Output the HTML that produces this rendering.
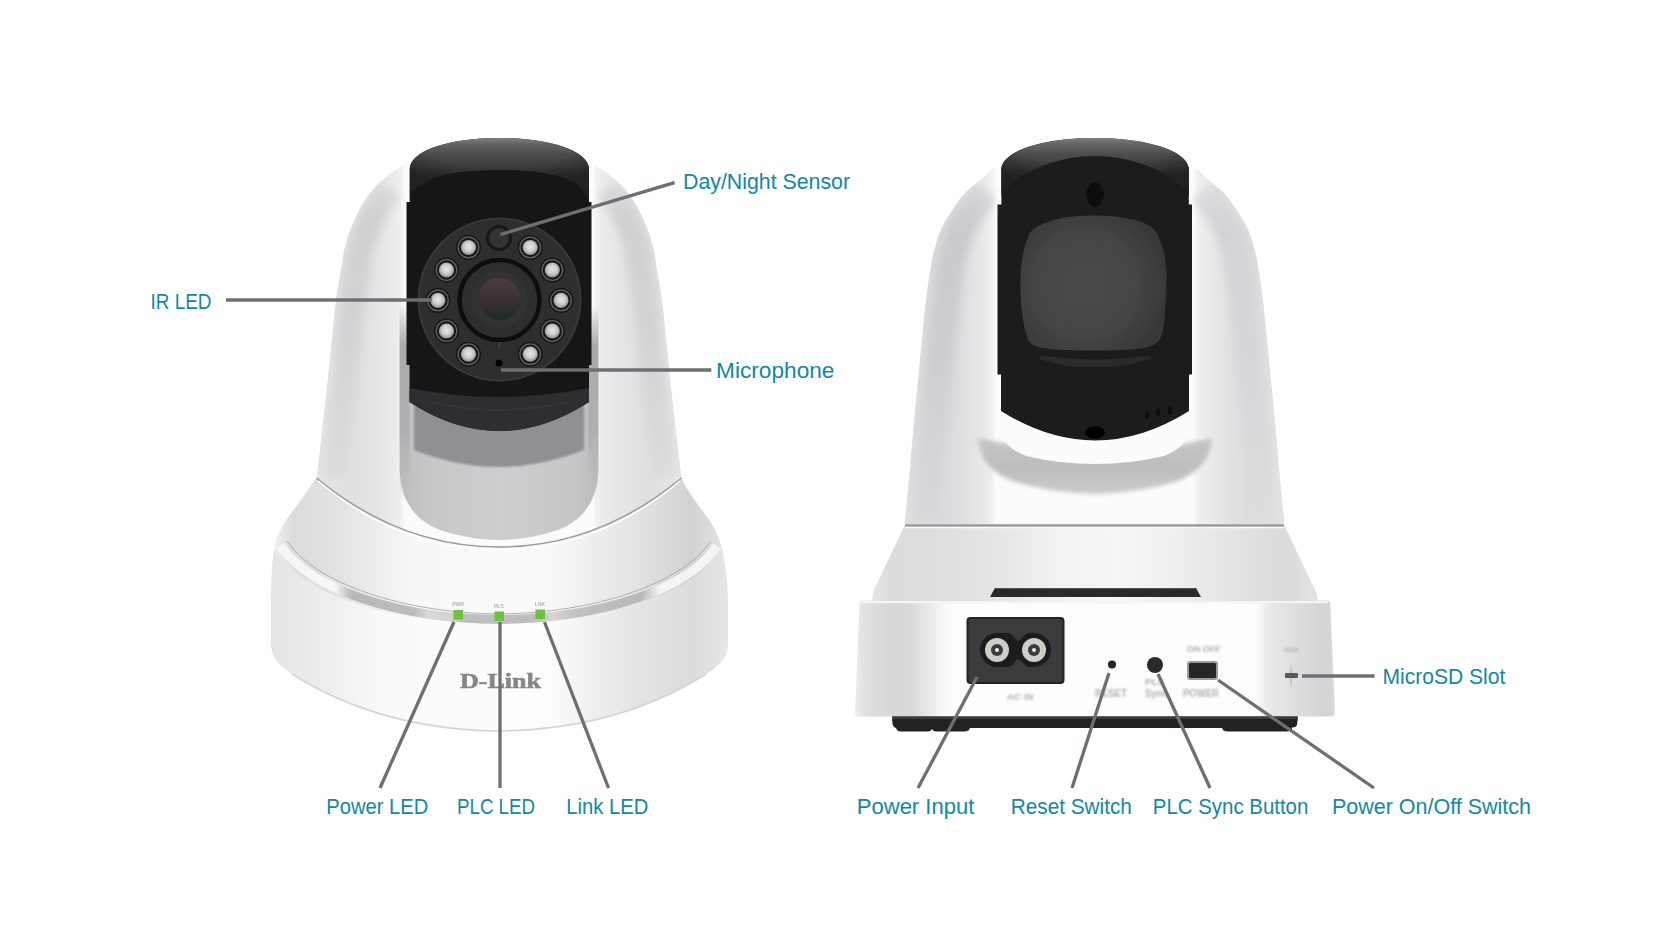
<!DOCTYPE html>
<html><head><meta charset="utf-8">
<style>
html,body{margin:0;padding:0;background:#fff;width:1664px;height:936px;overflow:hidden}
svg{display:block}
.lb{font-family:"Liberation Sans",sans-serif;font-size:22.5px;fill:#1188a4}
.ln{stroke:#6c7075;stroke-width:3.3;fill:none}
.sm{font-family:"Liberation Sans",sans-serif;font-weight:bold;fill:#aeb2b6}
</style></head>
<body>
<svg width="1664" height="936" viewBox="0 0 1664 936">
<defs>
  <linearGradient id="armLL" gradientUnits="userSpaceOnUse" x1="316" x2="406.5" y1="0" y2="0">
    <stop offset="0.0000" stop-color="#e6e6e8"/>
    <stop offset="0.2210" stop-color="#e2e2e4"/>
    <stop offset="0.3757" stop-color="#e0e0e2"/>
    <stop offset="0.5414" stop-color="#e2e2e4"/>
    <stop offset="0.7072" stop-color="#e6e6e8"/>
    <stop offset="0.8840" stop-color="#ececed"/>
    <stop offset="0.9503" stop-color="#f3f3f3"/>
    <stop offset="0.9779" stop-color="#fbfbfb"/>
    <stop offset="1.0000" stop-color="#fdfdfd"/>
  </linearGradient>
  <linearGradient id="armLR" gradientUnits="userSpaceOnUse" x1="682" x2="591.5" y1="0" y2="0">
    <stop offset="0.0000" stop-color="#e6e6e8"/>
    <stop offset="0.2210" stop-color="#e2e2e4"/>
    <stop offset="0.3757" stop-color="#e0e0e2"/>
    <stop offset="0.5414" stop-color="#e2e2e4"/>
    <stop offset="0.7072" stop-color="#e6e6e8"/>
    <stop offset="0.8840" stop-color="#ececed"/>
    <stop offset="0.9503" stop-color="#f3f3f3"/>
    <stop offset="0.9779" stop-color="#fbfbfb"/>
    <stop offset="1.0000" stop-color="#fdfdfd"/>
  </linearGradient>
  <linearGradient id="armRL" gradientUnits="userSpaceOnUse" x1="904" x2="997.5" y1="0" y2="0">
    <stop offset="0.0000" stop-color="#e0e0e2"/>
    <stop offset="0.2353" stop-color="#dcdcdf"/>
    <stop offset="0.3850" stop-color="#dadbde"/>
    <stop offset="0.5989" stop-color="#dedee1"/>
    <stop offset="0.7594" stop-color="#e4e4e6"/>
    <stop offset="0.8984" stop-color="#ececed"/>
    <stop offset="0.9519" stop-color="#f3f3f4"/>
    <stop offset="0.9786" stop-color="#fcfcfc"/>
    <stop offset="1.0000" stop-color="#fdfdfd"/>
  </linearGradient>
  <linearGradient id="armRR" gradientUnits="userSpaceOnUse" x1="1285.0" x2="1191.5" y1="0" y2="0">
    <stop offset="0.0000" stop-color="#e4e4e6"/>
    <stop offset="0.2353" stop-color="#e0e0e2"/>
    <stop offset="0.3850" stop-color="#dedee1"/>
    <stop offset="0.5989" stop-color="#e2e2e4"/>
    <stop offset="0.7594" stop-color="#e8e8ea"/>
    <stop offset="0.8984" stop-color="#eeeeef"/>
    <stop offset="0.9519" stop-color="#f4f4f4"/>
    <stop offset="0.9786" stop-color="#fcfcfc"/>
    <stop offset="1.0000" stop-color="#fdfdfd"/>
  </linearGradient>

  <filter id="camsoft" filterUnits="userSpaceOnUse" x="200" y="100" width="1200" height="660"><feGaussianBlur stdDeviation="0.55"/></filter>
  <filter id="halo" filterUnits="userSpaceOnUse" x="990" y="190" width="210" height="200"><feGaussianBlur stdDeviation="4.5"/></filter>
  <linearGradient id="stripV" gradientUnits="userSpaceOnUse" x1="0" x2="0" y1="330" y2="500">
    <stop offset="0" stop-color="#a9aaac" stop-opacity="1"/>
    <stop offset="0.6" stop-color="#acadaf" stop-opacity="0.9"/>
    <stop offset="1" stop-color="#bbbcbe" stop-opacity="0"/>
  </linearGradient>
  <filter id="blur5" x="-50%" y="-10%" width="200%" height="120%"><feGaussianBlur stdDeviation="5"/></filter>
  <linearGradient id="bandV" gradientUnits="userSpaceOnUse" x1="0" x2="0" y1="175" y2="480">
    <stop offset="0" stop-color="#cfd0d2" stop-opacity="0.5"/>
    <stop offset="0.15" stop-color="#cfd0d2" stop-opacity="1"/>
    <stop offset="0.55" stop-color="#d2d3d5" stop-opacity="1"/>
    <stop offset="1" stop-color="#d8d8da" stop-opacity="0.6"/>
  </linearGradient>
  <linearGradient id="bandV2" gradientUnits="userSpaceOnUse" x1="0" x2="0" y1="180" y2="524">
    <stop offset="0" stop-color="#cbccd0" stop-opacity="0.5"/>
    <stop offset="0.15" stop-color="#c9cace" stop-opacity="1"/>
    <stop offset="0.5" stop-color="#cccdd1" stop-opacity="1"/>
    <stop offset="1" stop-color="#d6d7d9" stop-opacity="0.7"/>
  </linearGradient>
  <linearGradient id="bandV2b" gradientUnits="userSpaceOnUse" x1="0" x2="0" y1="180" y2="524">
    <stop offset="0" stop-color="#d2d3d6" stop-opacity="0.5"/>
    <stop offset="0.15" stop-color="#d2d3d6" stop-opacity="1"/>
    <stop offset="0.5" stop-color="#d5d6d9" stop-opacity="1"/>
    <stop offset="1" stop-color="#dcdcde" stop-opacity="0.7"/>
  </linearGradient>
  <linearGradient id="rimG" gradientUnits="userSpaceOnUse" x1="276" x2="722" y1="0" y2="0">
    <stop offset="0" stop-color="#f4f4f4"/>
    <stop offset="0.13" stop-color="#f8f8f8"/>
    <stop offset="0.17" stop-color="#b8b8ba"/>
    <stop offset="0.31" stop-color="#bcbcbe"/>
    <stop offset="0.34" stop-color="#d8d8d9"/>
    <stop offset="0.39" stop-color="#d4d4d5"/>
    <stop offset="0.42" stop-color="#bebec0"/>
    <stop offset="0.58" stop-color="#bebec0"/>
    <stop offset="0.62" stop-color="#d4d4d5"/>
    <stop offset="0.68" stop-color="#c0c0c2"/>
    <stop offset="0.82" stop-color="#b8b8ba"/>
    <stop offset="0.86" stop-color="#f4f4f4"/>
    <stop offset="1" stop-color="#f4f4f4"/>
  </linearGradient>
  <linearGradient id="recMaskG" gradientUnits="userSpaceOnUse" x1="0" x2="0" y1="305" y2="345">
    <stop offset="0" stop-color="#000"/>
    <stop offset="1" stop-color="#fff"/>
  </linearGradient>
  <mask id="recMask" maskUnits="userSpaceOnUse" x="380" y="280" width="240" height="280"><rect x="380" y="280" width="240" height="280" fill="url(#recMaskG)"/></mask>
  <filter id="soft" x="-10%" y="-10%" width="120%" height="120%"><feGaussianBlur stdDeviation="0.6"/></filter>
  <filter id="soft1" x="-10%" y="-10%" width="120%" height="120%"><feGaussianBlur stdDeviation="1"/></filter>
  <filter id="soft2" x="-10%" y="-10%" width="120%" height="120%"><feGaussianBlur stdDeviation="2"/></filter>
  <g id="led"><circle r="12.5" fill="#171717"/><circle r="10.3" fill="none" stroke="#626262" stroke-width="1.3"/><circle r="7.6" fill="url(#ledG)"/></g>
  <linearGradient id="baseLo" x1="0" x2="1" y1="0" y2="0">
    <stop offset="0" stop-color="#e4e4e6"/>
    <stop offset="0.1" stop-color="#ececed"/>
    <stop offset="0.25" stop-color="#fafafa"/>
    <stop offset="0.6" stop-color="#fdfdfd"/>
    <stop offset="0.8" stop-color="#e4e4e5"/>
    <stop offset="0.93" stop-color="#dcdcde"/>
    <stop offset="1" stop-color="#e6e6e7"/>
  </linearGradient>
  <linearGradient id="baseSh" x1="0" x2="1" y1="0" y2="0">
    <stop offset="0" stop-color="#f0f0f1"/>
    <stop offset="0.04" stop-color="#dcdcde"/>
    <stop offset="0.14" stop-color="#e2e2e4"/>
    <stop offset="0.32" stop-color="#f8f8f8"/>
    <stop offset="0.6" stop-color="#fafafa"/>
    <stop offset="0.8" stop-color="#e4e4e6"/>
    <stop offset="0.93" stop-color="#d2d2d4"/>
    <stop offset="1" stop-color="#e2e2e3"/>
  </linearGradient>
  <linearGradient id="domeL" gradientUnits="userSpaceOnUse" x1="0" x2="0" y1="137" y2="205">
    <stop offset="0" stop-color="#858585"/>
    <stop offset="0.1" stop-color="#646464"/>
    <stop offset="0.27" stop-color="#4a4a4a"/>
    <stop offset="0.5" stop-color="#383838"/>
    <stop offset="1" stop-color="#282828"/>
  </linearGradient>
  <linearGradient id="domeR" gradientUnits="userSpaceOnUse" x1="0" x2="0" y1="137" y2="196">
    <stop offset="0" stop-color="#888"/>
    <stop offset="0.1" stop-color="#686868"/>
    <stop offset="0.3" stop-color="#4c4c4c"/>
    <stop offset="0.6" stop-color="#383838"/>
    <stop offset="1" stop-color="#2a2a2a"/>
  </linearGradient>
  <radialGradient id="domeSide" cx="0.5" cy="0" r="0.75">
    <stop offset="0.6" stop-color="#000" stop-opacity="0"/>
    <stop offset="1" stop-color="#000" stop-opacity="0.35"/>
  </radialGradient>
  <linearGradient id="recessG" x1="0" x2="1" y1="0" y2="0">
    <stop offset="0" stop-color="#bbbcbe"/>
    <stop offset="0.05" stop-color="#bfc0c2"/>
    <stop offset="0.12" stop-color="#c5c6c8"/>
    <stop offset="0.3" stop-color="#c9cacc"/>
    <stop offset="0.5" stop-color="#cdced0"/>
    <stop offset="0.7" stop-color="#c9cacc"/>
    <stop offset="0.88" stop-color="#c5c6c8"/>
    <stop offset="0.95" stop-color="#bfc0c2"/>
    <stop offset="1" stop-color="#bbbcbe"/>
  </linearGradient>
  <linearGradient id="lensG" x1="0" x2="0" y1="0" y2="1">
    <stop offset="0" stop-color="#4a3c46"/>
    <stop offset="0.45" stop-color="#3e3036"/>
    <stop offset="1" stop-color="#1e2c24"/>
  </linearGradient>
  <radialGradient id="ledG" cx="0.5" cy="0.45" r="0.55">
    <stop offset="0" stop-color="#e6e6e6"/>
    <stop offset="0.55" stop-color="#cdcdcd"/>
    <stop offset="1" stop-color="#8a8a8a"/>
  </radialGradient>
  <radialGradient id="winG" gradientUnits="userSpaceOnUse" cx="1085" cy="285" r="80">
    <stop offset="0" stop-color="#4a4a4c"/>
    <stop offset="0.7" stop-color="#444446"/>
    <stop offset="1" stop-color="#39393b"/>
  </radialGradient>
  <linearGradient id="plateG" gradientUnits="userSpaceOnUse" x1="855" x2="1335" y1="0" y2="0">
    <stop offset="0.0000" stop-color="#eeeeee"/>
    <stop offset="0.0104" stop-color="#e6e6e8"/>
    <stop offset="0.0312" stop-color="#dedee0"/>
    <stop offset="0.0729" stop-color="#d6d7d9"/>
    <stop offset="0.1146" stop-color="#d8d8da"/>
    <stop offset="0.1458" stop-color="#e6e6e8"/>
    <stop offset="0.1812" stop-color="#f6f6f6"/>
    <stop offset="0.2083" stop-color="#fdfdfd"/>
    <stop offset="0.8333" stop-color="#fdfdfd"/>
    <stop offset="0.8604" stop-color="#eaeaeb"/>
    <stop offset="0.9062" stop-color="#e0e0e2"/>
    <stop offset="0.9479" stop-color="#d8d8da"/>
    <stop offset="0.9792" stop-color="#d2d3d5"/>
    <stop offset="1.0000" stop-color="#dadadc"/>
  </linearGradient>
  <linearGradient id="baseFr" gradientUnits="userSpaceOnUse" x1="872" x2="1318" y1="0" y2="0">
    <stop offset="0.0000" stop-color="#e6e6e8"/>
    <stop offset="0.0404" stop-color="#dcdcde"/>
    <stop offset="0.1525" stop-color="#dedee0"/>
    <stop offset="0.2870" stop-color="#e6e6e8"/>
    <stop offset="0.4215" stop-color="#f2f2f3"/>
    <stop offset="0.5561" stop-color="#f6f6f6"/>
    <stop offset="0.6906" stop-color="#eeeeef"/>
    <stop offset="0.8251" stop-color="#e2e2e4"/>
    <stop offset="0.9372" stop-color="#dadadc"/>
    <stop offset="1.0000" stop-color="#e4e4e6"/>
  </linearGradient>

  <linearGradient id="ringShadow" x1="0" x2="0" y1="0" y2="1">
    <stop offset="0" stop-color="#c6c6c8"/>
    <stop offset="0.5" stop-color="#bdbdbf"/>
    <stop offset="1" stop-color="#cbcbcd"/>
  </linearGradient>
</defs>

<g id="leftcam" filter="url(#camsoft)">
  <!-- base lower cylinder -->
  <path d="M274 549 Q271 570 271 600 L271 645 Q272 662 292 674 Q380 729.5 499 731 Q618 729.5 706 674 Q727 662 728 645 L728 600 Q727 570 722 549 C690 600 600 624 499 624 C398 624 308 600 274 549 Z" fill="url(#baseLo)"/>
  <!-- base shoulder -->
  <path d="M316 478 Q305 495 295 508 Q276 532 274 549 C308 600 398 624 499 624 C600 624 690 600 722 549 Q718 530 702 510 Q690 495 681 478 Z" fill="url(#baseSh)"/>
  <!-- rim band -->
  <path d="M281 546 C310 590 400 619 499 619.5 C598 619 688 590 717 546" fill="none" stroke="url(#rimG)" stroke-width="9" filter="url(#soft)"/>
  <path d="M287 541 C316 584 404 613 499 614 C594 613 682 584 711 541" fill="none" stroke="#a9a5a5" stroke-width="0.9"/>
  <!-- bottom edge -->
  <path d="M292 674 Q380 729.5 499 731 Q618 729.5 706 674" fill="none" stroke="#d4d4d6" stroke-width="1.5"/>
  <!-- body -->
  <path d="M406.5 164 L404 164.5 C401.3 166.3 393.0 171.6 388.0 175.6 C383.0 179.6 377.8 184.2 373.8 188.5 C369.8 192.8 367.0 197.1 364.2 201.3 C361.4 205.6 359.3 209.7 357.2 214.0 C355.1 218.3 353.1 222.7 351.4 227.0 C349.7 231.3 348.3 235.4 347.0 239.7 C345.7 244.0 344.7 247.5 343.7 252.6 C342.7 257.6 342.3 262.1 341.0 270.0 C339.7 277.9 337.7 286.7 336.0 300.0 C334.3 313.3 332.5 333.3 330.8 350.0 C329.1 366.7 327.2 385.0 325.6 400.0 C324.0 415.0 322.5 427.0 321.0 440.0 C319.5 453.0 317.2 471.7 316.5 478.0 Q400 547 499 547 Q598 547 681.5 478 C680.8 471.7 678.5 453.0 677.0 440.0 C675.5 427.0 674.0 415.0 672.4 400.0 C670.8 385.0 668.9 366.7 667.2 350.0 C665.5 333.3 663.7 313.3 662.0 300.0 C660.3 286.7 658.3 277.9 657.0 270.0 C655.7 262.1 655.3 257.6 654.3 252.6 C653.3 247.5 652.3 244.0 651.0 239.7 C649.7 235.4 648.3 231.3 646.6 227.0 C644.9 222.7 642.9 218.3 640.8 214.0 C638.7 209.7 636.6 205.6 633.8 201.3 C631.0 197.1 628.2 192.8 624.2 188.5 C620.2 184.2 615.0 179.6 610.0 175.6 C605.0 171.6 596.7 166.3 594.0 164.5 L591.5 164 Z" fill="#fbfbfb"/>
  <clipPath id="cLL"><path d="M406.5 164 L404 164.5 C401.3 166.3 393.0 171.6 388.0 175.6 C383.0 179.6 377.8 184.2 373.8 188.5 C369.8 192.8 367.0 197.1 364.2 201.3 C361.4 205.6 359.3 209.7 357.2 214.0 C355.1 218.3 353.1 222.7 351.4 227.0 C349.7 231.3 348.3 235.4 347.0 239.7 C345.7 244.0 344.7 247.5 343.7 252.6 C342.7 257.6 342.3 262.1 341.0 270.0 C339.7 277.9 337.7 286.7 336.0 300.0 C334.3 313.3 332.5 333.3 330.8 350.0 C329.1 366.7 327.2 385.0 325.6 400.0 C324.0 415.0 322.5 427.0 321.0 440.0 C319.5 453.0 317.2 471.7 316.5 478.0 Q360 515 406.5 534 Z"/></clipPath>
  <clipPath id="cLR"><path d="M591.5 164 L594 164.5 C596.7 166.3 605.0 171.6 610.0 175.6 C615.0 179.6 620.2 184.2 624.2 188.5 C628.2 192.8 631.0 197.1 633.8 201.3 C636.6 205.6 638.7 209.7 640.8 214.0 C642.9 218.3 644.9 222.7 646.6 227.0 C648.3 231.3 649.7 235.4 651.0 239.7 C652.3 244.0 653.3 247.5 654.3 252.6 C655.3 257.6 655.7 262.1 657.0 270.0 C658.3 277.9 660.3 286.7 662.0 300.0 C663.7 313.3 665.5 333.3 667.2 350.0 C668.9 366.7 670.8 385.0 672.4 400.0 C674.0 415.0 675.5 427.0 677.0 440.0 C678.5 453.0 680.8 471.7 681.5 478.0 Q638 515 591.5 534 Z"/></clipPath>
  <path d="M406.5 164 L404 164.5 C401.3 166.3 393.0 171.6 388.0 175.6 C383.0 179.6 377.8 184.2 373.8 188.5 C369.8 192.8 367.0 197.1 364.2 201.3 C361.4 205.6 359.3 209.7 357.2 214.0 C355.1 218.3 353.1 222.7 351.4 227.0 C349.7 231.3 348.3 235.4 347.0 239.7 C345.7 244.0 344.7 247.5 343.7 252.6 C342.7 257.6 342.3 262.1 341.0 270.0 C339.7 277.9 337.7 286.7 336.0 300.0 C334.3 313.3 332.5 333.3 330.8 350.0 C329.1 366.7 327.2 385.0 325.6 400.0 C324.0 415.0 322.5 427.0 321.0 440.0 C319.5 453.0 317.2 471.7 316.5 478.0 Q360 515 406.5 534 Z" fill="url(#armLL)"/>
  <path d="M591.5 164 L594 164.5 C596.7 166.3 605.0 171.6 610.0 175.6 C615.0 179.6 620.2 184.2 624.2 188.5 C628.2 192.8 631.0 197.1 633.8 201.3 C636.6 205.6 638.7 209.7 640.8 214.0 C642.9 218.3 644.9 222.7 646.6 227.0 C648.3 231.3 649.7 235.4 651.0 239.7 C652.3 244.0 653.3 247.5 654.3 252.6 C655.3 257.6 655.7 262.1 657.0 270.0 C658.3 277.9 660.3 286.7 662.0 300.0 C663.7 313.3 665.5 333.3 667.2 350.0 C668.9 366.7 670.8 385.0 672.4 400.0 C674.0 415.0 675.5 427.0 677.0 440.0 C678.5 453.0 680.8 471.7 681.5 478.0 Q638 515 591.5 534 Z" fill="url(#armLR)"/>
  <g clip-path="url(#cLL)"><path d="M390.8 188.5 C389.2 190.6 384.0 197.1 381.2 201.3 C378.4 205.6 376.3 209.7 374.2 214.0 C372.1 218.3 370.1 222.7 368.4 227.0 C366.7 231.3 365.3 235.4 364.0 239.7 C362.7 244.0 361.7 247.5 360.7 252.6 C359.7 257.6 359.3 262.1 358.0 270.0 C356.7 277.9 354.7 286.7 353.0 300.0 C351.3 313.3 349.5 333.3 347.8 350.0 C346.1 366.7 344.2 385.0 342.6 400.0 C341.0 415.0 339.5 427.0 338.0 440.0 C336.5 453.0 334.2 471.7 333.5 478.0" fill="none" stroke="url(#bandV)" stroke-width="24" filter="url(#blur5)"/></g>
  <g clip-path="url(#cLR)"><path d="M607.2 188.5 C608.8 190.6 614.0 197.1 616.8 201.3 C619.6 205.6 621.7 209.7 623.8 214.0 C625.9 218.3 627.9 222.7 629.6 227.0 C631.3 231.3 632.7 235.4 634.0 239.7 C635.3 244.0 636.3 247.5 637.3 252.6 C638.3 257.6 638.7 262.1 640.0 270.0 C641.3 277.9 643.3 286.7 645.0 300.0 C646.7 313.3 648.5 333.3 650.2 350.0 C651.9 366.7 653.8 385.0 655.4 400.0 C657.0 415.0 658.5 427.0 660.0 440.0 C661.5 453.0 663.8 471.7 664.5 478.0" fill="none" stroke="url(#bandV)" stroke-width="24" filter="url(#blur5)"/></g>
  <!-- body-base seam -->
  <path d="M316.5 478 Q400 547 499 547 Q598 547 681.5 478" fill="none" stroke="#9c9696" stroke-width="1.4"/>
  <path d="M318 481 Q400 550 499 550 Q598 550 680 481" fill="none" stroke="#ffffff" stroke-width="1.5"/>
  <!-- recess -->
  <g mask="url(#recMask)">
  <path d="M399.7 300 L399.7 470 Q401 515 440 530 Q470 540 499 540 Q528 540 558 530 Q597 515 598.3 470 L598.3 300 Z" fill="url(#recessG)"/>
  <rect x="399.7" y="300" width="10" height="200" fill="url(#stripV)"/>
  <rect x="588.3" y="300" width="10" height="200" fill="url(#stripV)"/>
  <path d="M414 380 L584 380 L584 450 Q499 484 414 450 Z" fill="#8f9094" filter="url(#soft1)"/>
  </g>
  <!-- visor -->
  <path d="M409.8 168 C412 150 450 138 499 138 C548 138 587 150 589 168 L589 202 L591.5 202 L591.5 365 L589 365 L589 402 Q499 460 409.5 402 L409.5 365 L406.5 365 L406.5 202 L409.8 202 Z" fill="#181818"/>
  <path d="M409.8 168 C412 150 450 138 499 138 C548 138 587 150 589 168 L589 203 C586 185 568 170 499 170 C430 170 412 185 409.8 203 Z" fill="url(#domeL)" filter="url(#soft)"/>
  <path d="M409.8 168 C412 150 450 138 499 138 C548 138 587 150 589 168 L589 203 C586 185 568 170 499 170 C430 170 412 185 409.8 203 Z" fill="url(#domeSide)"/>
  <!-- lower visor band -->
  <path d="M409.5 388 Q499 406 589 388 L589 402 Q499 460 409.5 402 Z" fill="#2f2f30" filter="url(#soft)"/>
  <path d="M430 402 Q499 418 568 402" fill="none" stroke="#363637" stroke-width="2" filter="url(#soft)"/>
  <!-- lens ring plate -->
  <circle cx="499.5" cy="299.5" r="82" fill="#2f2f2f"/>
  <circle cx="499.5" cy="299.5" r="81" fill="none" stroke="#3d3d3d" stroke-width="1.2"/>
  <circle cx="499.5" cy="300" r="40" fill="#2f2f2f" stroke="#0e0e0e" stroke-width="4.5"/>
  <circle cx="499.5" cy="299" r="28" fill="#333333"/>
  <circle cx="499.5" cy="299" r="21" fill="url(#lensG)"/>
  <line x1="499.5" y1="342" x2="499.5" y2="347" stroke="#4a4a4a" stroke-width="1.5"/>
  <!-- day/night sensor -->
  <circle cx="499" cy="238" r="11.5" fill="#333" stroke="#141414" stroke-width="2.8"/>
  <!-- mic -->
  <circle cx="499" cy="363" r="3.5" fill="#050505"/>
  <!-- IR LEDs -->
  <g>
    <use href="#led" x="468.5" y="247.5"/>
    <use href="#led" x="530.2" y="247.5"/>
    <use href="#led" x="446.5" y="270"/>
    <use href="#led" x="552.3" y="270"/>
    <use href="#led" x="437.9" y="300.4"/>
    <use href="#led" x="561" y="300.4"/>
    <use href="#led" x="446.5" y="331"/>
    <use href="#led" x="552.3" y="331"/>
    <use href="#led" x="468.5" y="354.2"/>
    <use href="#led" x="530.2" y="354.2"/>
  </g>
  <!-- LEDs on base -->
  <rect x="453.5" y="610" width="9.5" height="9.5" fill="#6cc23c"/>
  <rect x="494.5" y="611.5" width="9.5" height="9.5" fill="#6cc23c"/>
  <rect x="535.5" y="609.5" width="9.5" height="9.5" fill="#6cc23c"/>
  <g filter="url(#soft)">
  <text class="sm" x="458" y="606" font-size="5" text-anchor="middle">PWR</text>
  <text class="sm" x="499" y="608" font-size="5" text-anchor="middle">PLC</text>
  <text class="sm" x="540" y="606" font-size="5" text-anchor="middle">LNK</text>
  </g>
  <!-- D-Link -->
  <text x="500.5" y="687.8" font-family="Liberation Serif" font-weight="bold" font-size="21.5" fill="#858789" stroke="#858789" stroke-width="0.6" text-anchor="middle" textLength="81" lengthAdjust="spacingAndGlyphs" filter="url(#soft)">D-Link</text>
</g>

<g id="rightcam" filter="url(#camsoft)">
  <!-- base plate -->
  <path d="M862 600.5 L1327.5 600.5 Q1330 600.5 1330.2 603 L1335 712 Q1335 716.5 1331 716.5 L859 716.5 Q855 716.5 855 712 L859.5 603 Q859.7 600.5 862 600.5 Z" fill="url(#plateG)"/>
  <path d="M861 602 L1328 602" stroke="#f4f4f4" stroke-width="2.5"/>
  <!-- bottom strip -->
  <path d="M892 716.5 L1298 716.5 L1297 725 Q1296 727.5 1292 727.5 L1292 729 Q1291 731.5 1287 731.5 L1228 731.5 Q1223 731.5 1222 728 L970 728 Q969 731.5 964 731.5 L936 731.5 Q933 731.5 932 729 Q931 731.5 928 731.5 L901 731.5 Q897 731.5 896 728 Q893 727 892.5 724 Z" fill="#232323"/>
  <rect x="893" y="716.5" width="404" height="2.5" fill="#3a3a3a"/>
  <!-- base frustum -->
  <path d="M904.4 526 L1284.6 526 L1316 592 L1318 601 L872 601 L873 592 Z" fill="url(#baseFr)"/>
  <!-- slot -->
  <path d="M995 588 L1196 588 L1201 597 L990 597 Z" fill="#2b2b2b"/>
  <path d="M996 588.5 L1195 588.5" stroke="#555" stroke-width="1"/>
  <!-- body -->
  <path d="M997.5 168 L992 169 C990.3 170.6 986.2 174.8 982.0 178.5 C977.8 182.2 971.0 187.1 966.7 191.3 C962.4 195.6 959.5 199.7 956.4 204.0 C953.3 208.3 950.6 212.7 948.0 217.0 C945.4 221.3 942.9 225.4 941.0 229.7 C939.1 234.0 938.0 237.5 936.5 242.6 C935.0 247.7 933.8 250.4 932.0 260.0 C930.2 269.6 927.8 285.0 926.0 300.0 C924.2 315.0 922.7 333.3 921.0 350.0 C919.3 366.7 917.6 383.3 916.0 400.0 C914.4 416.7 913.0 433.3 911.5 450.0 C910.0 466.7 908.2 487.7 907.0 500.0 C905.8 512.3 904.8 520.0 904.4 524.0 L1284.6 524 C1284.2 520.0 1283.2 512.3 1282.0 500.0 C1280.8 487.7 1279.0 466.7 1277.5 450.0 C1276.0 433.3 1274.6 416.7 1273.0 400.0 C1271.4 383.3 1269.7 366.7 1268.0 350.0 C1266.3 333.3 1264.8 315.0 1263.0 300.0 C1261.2 285.0 1258.8 269.6 1257.0 260.0 C1255.2 250.4 1254.0 247.7 1252.5 242.6 C1251.0 237.5 1249.9 234.0 1248.0 229.7 C1246.1 225.4 1243.6 221.3 1241.0 217.0 C1238.4 212.7 1235.7 208.3 1232.6 204.0 C1229.5 199.7 1226.6 195.6 1222.3 191.3 C1218.0 187.1 1211.2 182.2 1207.0 178.5 C1202.8 174.8 1198.7 170.6 1197.0 169.0 L1191.5 168 Z" fill="#fbfbfb"/>
  <clipPath id="cRL"><path d="M997.5 168 L992 169 C990.3 170.6 986.2 174.8 982.0 178.5 C977.8 182.2 971.0 187.1 966.7 191.3 C962.4 195.6 959.5 199.7 956.4 204.0 C953.3 208.3 950.6 212.7 948.0 217.0 C945.4 221.3 942.9 225.4 941.0 229.7 C939.1 234.0 938.0 237.5 936.5 242.6 C935.0 247.7 933.8 250.4 932.0 260.0 C930.2 269.6 927.8 285.0 926.0 300.0 C924.2 315.0 922.7 333.3 921.0 350.0 C919.3 366.7 917.6 383.3 916.0 400.0 C914.4 416.7 913.0 433.3 911.5 450.0 C910.0 466.7 908.2 487.7 907.0 500.0 C905.8 512.3 904.8 520.0 904.4 524.0 L998 524 Z"/></clipPath>
  <clipPath id="cRR"><path d="M1191.5 168 L1197 169 C1198.7 170.6 1202.8 174.8 1207.0 178.5 C1211.2 182.2 1218.0 187.1 1222.3 191.3 C1226.6 195.6 1229.5 199.7 1232.6 204.0 C1235.7 208.3 1238.4 212.7 1241.0 217.0 C1243.6 221.3 1246.1 225.4 1248.0 229.7 C1249.9 234.0 1251.0 237.5 1252.5 242.6 C1254.0 247.7 1255.2 250.4 1257.0 260.0 C1258.8 269.6 1261.2 285.0 1263.0 300.0 C1264.8 315.0 1266.3 333.3 1268.0 350.0 C1269.7 366.7 1271.4 383.3 1273.0 400.0 C1274.6 416.7 1276.0 433.3 1277.5 450.0 C1279.0 466.7 1280.8 487.7 1282.0 500.0 C1283.2 512.3 1284.2 520.0 1284.6 524.0 L1191 524 Z"/></clipPath>
  <path d="M997.5 168 L992 169 C990.3 170.6 986.2 174.8 982.0 178.5 C977.8 182.2 971.0 187.1 966.7 191.3 C962.4 195.6 959.5 199.7 956.4 204.0 C953.3 208.3 950.6 212.7 948.0 217.0 C945.4 221.3 942.9 225.4 941.0 229.7 C939.1 234.0 938.0 237.5 936.5 242.6 C935.0 247.7 933.8 250.4 932.0 260.0 C930.2 269.6 927.8 285.0 926.0 300.0 C924.2 315.0 922.7 333.3 921.0 350.0 C919.3 366.7 917.6 383.3 916.0 400.0 C914.4 416.7 913.0 433.3 911.5 450.0 C910.0 466.7 908.2 487.7 907.0 500.0 C905.8 512.3 904.8 520.0 904.4 524.0 L998 524 Z" fill="url(#armRL)"/>
  <path d="M1191.5 168 L1197 169 C1198.7 170.6 1202.8 174.8 1207.0 178.5 C1211.2 182.2 1218.0 187.1 1222.3 191.3 C1226.6 195.6 1229.5 199.7 1232.6 204.0 C1235.7 208.3 1238.4 212.7 1241.0 217.0 C1243.6 221.3 1246.1 225.4 1248.0 229.7 C1249.9 234.0 1251.0 237.5 1252.5 242.6 C1254.0 247.7 1255.2 250.4 1257.0 260.0 C1258.8 269.6 1261.2 285.0 1263.0 300.0 C1264.8 315.0 1266.3 333.3 1268.0 350.0 C1269.7 366.7 1271.4 383.3 1273.0 400.0 C1274.6 416.7 1276.0 433.3 1277.5 450.0 C1279.0 466.7 1280.8 487.7 1282.0 500.0 C1283.2 512.3 1284.2 520.0 1284.6 524.0 L1191 524 Z" fill="url(#armRR)"/>
  <g clip-path="url(#cRL)"><path d="M986.7 191.3 C985.0 193.4 979.5 199.7 976.4 204.0 C973.3 208.3 970.6 212.7 968.0 217.0 C965.4 221.3 962.9 225.4 961.0 229.7 C959.1 234.0 958.0 237.5 956.5 242.6 C955.0 247.7 953.8 250.4 952.0 260.0 C950.2 269.6 947.8 285.0 946.0 300.0 C944.2 315.0 942.7 333.3 941.0 350.0 C939.3 366.7 937.6 383.3 936.0 400.0 C934.4 416.7 933.0 433.3 931.5 450.0 C930.0 466.7 928.2 487.7 927.0 500.0 C925.8 512.3 924.8 520.0 924.4 524.0" fill="none" stroke="url(#bandV2)" stroke-width="28" filter="url(#blur5)"/></g>
  <g clip-path="url(#cRR)"><path d="M1202.3 191.3 C1204.0 193.4 1209.5 199.7 1212.6 204.0 C1215.7 208.3 1218.4 212.7 1221.0 217.0 C1223.6 221.3 1226.1 225.4 1228.0 229.7 C1229.9 234.0 1231.0 237.5 1232.5 242.6 C1234.0 247.7 1235.2 250.4 1237.0 260.0 C1238.8 269.6 1241.2 285.0 1243.0 300.0 C1244.8 315.0 1246.3 333.3 1248.0 350.0 C1249.7 366.7 1251.4 383.3 1253.0 400.0 C1254.6 416.7 1256.0 433.3 1257.5 450.0 C1259.0 466.7 1260.8 487.7 1262.0 500.0 C1263.2 512.3 1264.2 520.0 1264.6 524.0" fill="none" stroke="url(#bandV2b)" stroke-width="28" filter="url(#blur5)"/></g>
  <!-- seam -->
  <line x1="905" y1="525.5" x2="1284" y2="525.5" stroke="#959597" stroke-width="2.6"/>
  <line x1="905" y1="527.5" x2="1284" y2="527.5" stroke="#fafafa" stroke-width="1.5"/>
  <!-- ring shadow below visor -->
  <path d="M978 438 Q980 468 1012 481 Q1050 493 1095 494 Q1140 493 1178 481 Q1210 468 1212 438 Q1150 452 1095 452 Q1040 452 978 438 Z" fill="url(#ringShadow)" filter="url(#soft2)"/>
  <!-- white lip -->
  <path d="M996.5 374 L997 422 Q1000 446 1026 456 Q1060 464 1095 464 Q1130 464 1164 456 Q1190 446 1193 422 L1193 374 Z" fill="#fcfcfc"/>
  <!-- visor -->
  <path d="M1001.4 168 C1004 150 1045 138 1095 138 C1145 138 1186 150 1188.8 168 L1188.8 204.5 L1192 204.5 L1192 374.6 L1189 374.6 L1189 411 Q1095 470 1001 411 L1001 374.6 L997.5 374.6 L997.5 204.5 L1001.4 204.5 Z" fill="#1c1c1c"/>
  <path d="M1001.4 168 C1004 150 1045 138 1095 138 C1145 138 1186 150 1188.8 168 L1188.8 196 C1180 178 1140 156 1095 156 C1050 156 1010 178 1001.4 196 Z" fill="url(#domeR)" filter="url(#soft)"/>
  <path d="M1001.4 168 C1004 150 1045 138 1095 138 C1145 138 1186 150 1188.8 168 L1188.8 196 C1180 178 1140 156 1095 156 C1050 156 1010 178 1001.4 196 Z" fill="url(#domeSide)"/>
  <!-- window -->
  <path d="M1035.0 228.0 C1040.5 224.4 1050.5 220.6 1060.0 218.5 C1069.5 216.4 1081.2 215.7 1092.0 215.6 C1102.8 215.5 1115.3 216.3 1125.0 218.0 C1134.7 219.7 1144.2 222.3 1150.0 226.0 C1155.8 229.7 1157.4 234.0 1160.0 240.0 C1162.6 246.0 1164.4 254.5 1165.5 262.0 C1166.6 269.5 1166.6 277.0 1166.5 285.0 C1166.4 293.0 1165.7 302.2 1165.0 310.0 C1164.3 317.8 1164.2 326.3 1162.5 332.0 C1160.8 337.7 1159.6 341.2 1155.0 344.0 C1150.4 346.8 1145.5 347.9 1135.0 349.0 C1124.5 350.1 1106.2 350.5 1092.0 350.5 C1077.8 350.5 1060.0 350.1 1050.0 349.0 C1040.0 347.9 1036.1 346.8 1032.0 344.0 C1027.9 341.2 1027.2 338.0 1025.5 332.0 C1023.8 326.0 1022.4 316.2 1021.5 308.0 C1020.6 299.8 1020.3 291.0 1020.4 283.0 C1020.5 275.0 1020.9 267.2 1022.0 260.0 C1023.1 252.8 1024.8 245.3 1027.0 240.0 C1029.2 234.7 1029.5 231.6 1035.0 228.0 Z" fill="url(#winG)"/>
  <path d="M1040 357 Q1095 375 1150 357 Q1095 366 1040 357 Z" fill="#2c2c2c" stroke="#2a2a2a" stroke-width="4" filter="url(#soft)"/>
  <!-- top hole -->
  <ellipse cx="1095" cy="194.4" rx="8.5" ry="12" fill="#0b0b0b" filter="url(#soft)"/>
  <!-- bottom hole -->
  <ellipse cx="1095" cy="432.5" rx="10" ry="6.5" fill="#050505"/>
  <!-- 3 slots -->
  <rect x="1145" y="411" width="3.5" height="8" rx="1.5" fill="#070707"/>
  <rect x="1156.5" y="408.5" width="3.5" height="8" rx="1.5" fill="#070707"/>
  <rect x="1168" y="406" width="3.5" height="8" rx="1.5" fill="#070707"/>
  <!-- AC IN -->
  <rect x="967.5" y="618" width="96" height="65" rx="3" fill="#3b3b3c" stroke="#222" stroke-width="2"/>
  <path d="M997 633 L1006 633 Q1012 633 1015 638 Q1018 644 1022 638 Q1025 633 1031 633 L1034 633 A17 17 0 0 1 1034 667 L1031 667 Q1025 667 1022 662 Q1018 656 1015 662 Q1012 667 1006 667 L997 667 A17 17 0 0 1 997 633 Z" fill="#1d1d1e"/>
  <circle cx="997" cy="650" r="12" fill="#d0ccc9"/>
  <circle cx="1034" cy="650" r="12" fill="#d0ccc9"/>
  <circle cx="997" cy="650" r="6" fill="#3a3a3a"/>
  <circle cx="1034" cy="650" r="6" fill="#3a3a3a"/>
  <circle cx="997" cy="650" r="2" fill="#eee"/>
  <circle cx="1034" cy="650" r="2" fill="#eee"/>
  <g filter="url(#soft1)">
  <text class="sm" x="1007" y="699.5" font-size="9.5" textLength="26.5" lengthAdjust="spacingAndGlyphs">AC IN</text>
  <text class="sm" x="1095" y="696.5" font-size="10" textLength="32" lengthAdjust="spacingAndGlyphs">RESET</text>
  <text class="sm" x="1145" y="684.8" font-size="8.5" textLength="20" lengthAdjust="spacingAndGlyphs">PLC</text>
  <text class="sm" x="1145" y="696.5" font-size="10" textLength="22.5" lengthAdjust="spacingAndGlyphs">Sync</text>
  <text class="sm" x="1187" y="652" font-size="8.5" textLength="33.5" lengthAdjust="spacingAndGlyphs">ON OFF</text>
  <text class="sm" x="1183" y="696.5" font-size="10" textLength="36" lengthAdjust="spacingAndGlyphs">POWER</text>
  <text class="sm" x="1284" y="652" font-size="8" textLength="15" lengthAdjust="spacingAndGlyphs">mic</text>
  </g>
  <!-- reset -->
  <circle cx="1112" cy="664.5" r="4" fill="#202020"/>
  <!-- PLC sync -->
  <circle cx="1155" cy="665" r="8" fill="#2a2a2a"/>
  <!-- power switch -->
  <rect x="1187" y="661" width="31" height="19" rx="3" fill="#9a9a9a" filter="url(#soft)"/>
  <rect x="1189" y="663" width="27" height="15" rx="1.5" fill="#262626"/>
  <!-- microSD -->
  <path d="M1291 662 L1293 675 L1291 690 L1289 675 Z" fill="#c8c8c8" filter="url(#soft)"/>
  <rect x="1285" y="673" width="13" height="5" rx="1" fill="#5a5a5a" filter="url(#soft)"/>
</g>

<g class="ln">
  <line x1="500.5" y1="234.5" x2="674.5" y2="182.6"/>
  <line x1="226" y1="300" x2="432" y2="300"/>
  <line x1="501" y1="370" x2="711.3" y2="370"/>
  <line x1="454" y1="622" x2="380" y2="788"/>
  <line x1="500" y1="622" x2="500" y2="788"/>
  <line x1="544.5" y1="622" x2="608.5" y2="788"/>
  <line x1="977" y1="677" x2="918" y2="788"/>
  <line x1="1109" y1="673" x2="1072" y2="788"/>
  <line x1="1158" y1="674" x2="1210" y2="788"/>
  <line x1="1218" y1="680" x2="1374" y2="788"/>
  <line x1="1302" y1="676" x2="1374.6" y2="676"/>
</g>

<g class="lb">
  <text x="683" y="189" textLength="167" lengthAdjust="spacingAndGlyphs">Day/Night Sensor</text>
  <text x="150.5" y="309" textLength="61" lengthAdjust="spacingAndGlyphs">IR LED</text>
  <text x="716" y="378" textLength="118.5" lengthAdjust="spacingAndGlyphs">Microphone</text>
  <text x="326.3" y="814" textLength="102" lengthAdjust="spacingAndGlyphs">Power LED</text>
  <text x="457" y="814" textLength="78" lengthAdjust="spacingAndGlyphs">PLC LED</text>
  <text x="566.3" y="814" textLength="82" lengthAdjust="spacingAndGlyphs">Link LED</text>
  <text x="856.8" y="814" textLength="117.5" lengthAdjust="spacingAndGlyphs">Power Input</text>
  <text x="1010.8" y="814" textLength="121" lengthAdjust="spacingAndGlyphs">Reset Switch</text>
  <text x="1152.8" y="814" textLength="155.5" lengthAdjust="spacingAndGlyphs">PLC Sync Button</text>
  <text x="1332" y="814" textLength="199" lengthAdjust="spacingAndGlyphs">Power On/Off Switch</text>
  <text x="1382.4" y="684" textLength="123" lengthAdjust="spacingAndGlyphs">MicroSD Slot</text>
</g>
</svg>
</body></html>
